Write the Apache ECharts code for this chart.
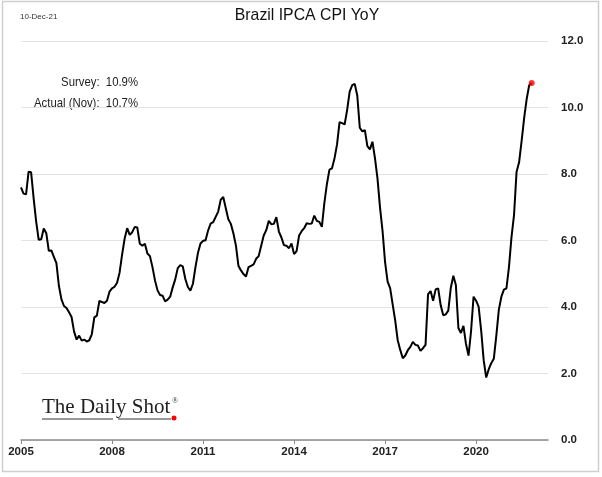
<!DOCTYPE html>
<html>
<head>
<meta charset="utf-8">
<script src="https://cdn.jsdelivr.net/npm/echarts@6/dist/echarts.min.js"></script>
<style>
html,body{margin:0;padding:0;background:#fff;}
#c{width:602px;height:477px;}
</style>
</head>
<body>
<div id="c"></div>
<script>
// Monthly IPCA YoY (%), Jan 2005 .. Nov 2021
const startYear = 2005;
const cpiYoY = [
  7.60,7.41,7.39,8.07,8.05,7.27,6.57,6.02,6.04,6.36,6.22,5.69,
  5.70,5.51,5.32,4.63,4.23,4.03,3.97,3.84,3.70,3.26,3.02,3.14,
  2.99,3.02,2.96,3.00,3.18,3.69,3.74,4.18,4.15,4.12,4.19,4.46,
  4.56,4.61,4.73,5.04,5.58,6.06,6.37,6.17,6.25,6.41,6.39,5.90,
  5.84,5.90,5.61,5.53,5.20,4.80,4.50,4.36,4.34,4.17,4.22,4.31,
  4.59,4.83,5.17,5.26,5.22,4.84,4.60,4.49,4.70,5.20,5.63,5.91,
  5.99,6.01,6.30,6.51,6.55,6.71,6.87,7.23,7.31,6.97,6.64,6.50,
  6.22,5.85,5.24,5.10,4.99,4.92,5.20,5.24,5.28,5.45,5.53,5.84,
  6.15,6.31,6.59,6.49,6.50,6.70,6.27,6.09,5.86,5.84,5.77,5.91,
  5.59,5.68,6.15,6.28,6.37,6.52,6.50,6.51,6.75,6.59,6.56,6.41,
  7.14,7.70,8.13,8.17,8.47,8.89,9.56,9.53,9.49,9.93,10.48,10.67,
  10.71,10.36,9.39,9.28,9.32,8.84,8.74,8.97,8.48,7.87,6.99,6.29,
  5.35,4.76,4.57,4.08,3.60,3.00,2.71,2.46,2.54,2.70,2.80,2.95,
  2.86,2.84,2.68,2.76,2.86,4.39,4.48,4.19,4.53,4.56,4.05,3.75,
  3.78,3.89,4.58,4.94,4.66,3.37,3.22,3.43,2.89,2.54,3.27,4.31,
  4.19,4.01,3.30,2.40,1.88,2.13,2.31,2.44,3.14,3.92,4.31,4.52,
  4.56,5.20,6.10,6.76,8.06,8.35,8.99,9.68,10.25,10.67,10.74
];
const xTickYears = [2005, 2008, 2011, 2014, 2017, 2020];
const yTicks = [0, 2, 4, 6, 8, 10, 12];
const annotations = ['Survey:  10.9%', 'Actual (Nov):  10.7%'];
const titleText = 'Brazil IPCA CPI YoY';
const dateText = '10-Dec-21';
const logoText = 'The Daily Shot';

// month positions as decimal years
const monthX = cpiYoY.map((_, i) => startYear + i / 12);
const lineData = cpiYoY.map((v, i) => [monthX[i], v]);
const lastPoint = [lineData[lineData.length - 1]];

const chart = echarts.init(document.getElementById('c'), null, {renderer: 'canvas'});
chart.setOption({
  animation: false,
  backgroundColor: '#fff',
  grid: {left: 21, right: 54, top: 41, bottom: 37, containLabel: false},
  xAxis: {
    type: 'value',
    min: 2005,
    max: 2022.37,
    splitLine: {show: false},
    axisLine: {show: true, onZero: false, lineStyle: {color: '#8c8c8c', width: 1.5}},
    axisTick: {show: true, customValues: xTickYears, length: 4, lineStyle: {color: '#8c8c8c'}},
    axisLabel: {
      customValues: xTickYears,
      formatter: v => String(Math.round(v)),
      color: '#222', fontWeight: 'bold', fontSize: 11.5,
      fontFamily: 'Liberation Sans, Arial, sans-serif', margin: 6
    }
  },
  yAxis: {
    type: 'value',
    position: 'right',
    min: yTicks[0], max: yTicks[yTicks.length - 1], interval: 2,
    axisLine: {show: false},
    axisTick: {show: false},
    splitLine: {show: true, lineStyle: {color: '#e3e3e3', width: 1.2}},
    axisLabel: {
      formatter: v => v.toFixed(1),
      color: '#222', fontWeight: 'bold', fontSize: 11.5,
      fontFamily: 'Liberation Sans, Arial, sans-serif', margin: 13
    }
  },
  series: [
    {
      type: 'line',
      data: lineData,
      showSymbol: false,
      lineStyle: {color: '#000', width: 2},
      z: 3
    },
    {
      type: 'scatter',
      data: lastPoint,
      symbolSize: 6,
      itemStyle: {color: '#ff0000'},
      z: 4
    }
  ],
  graphic: [
    {type: 'rect', shape: {x: 2.5, y: 1.5, width: 596, height: 470}, style: {fill: 'none', stroke: '#cfcfcf', lineWidth: 1.5}, silent: true},
    {type: 'text', x: 307, y: 15, scaleX: 0.93, style: {text: titleText, x: 0, y: 0, align: 'center', verticalAlign: 'middle', font: '17px "Liberation Sans", Arial, sans-serif', fill: '#111'}},
    {type: 'text', x: 20, y: 17, style: {text: dateText, verticalAlign: 'middle', font: '8px "Liberation Sans", Arial, sans-serif', fill: '#333'}},
    {type: 'text', x: 138, y: 82, scaleX: 0.84, style: {text: annotations[0], x: 0, y: 0, align: 'right', verticalAlign: 'middle', font: '13.5px "Liberation Sans", Arial, sans-serif', fill: '#222'}},
    {type: 'text', x: 138, y: 103, scaleX: 0.84, style: {text: annotations[1], x: 0, y: 0, align: 'right', verticalAlign: 'middle', font: '13.5px "Liberation Sans", Arial, sans-serif', fill: '#222'}},
    {type: 'text', x: 42, y: 407, style: {text: logoText, verticalAlign: 'middle', font: '21px "Liberation Serif", "DejaVu Serif", serif', fill: '#222'}},
    {type: 'text', x: 172, y: 401, style: {text: '®', verticalAlign: 'middle', font: '8px "Liberation Serif", serif', fill: '#333'}},
    {type: 'line', shape: {x1: 42, y1: 419, x2: 113, y2: 419}, style: {stroke: '#333', lineWidth: 1.2}},
    {type: 'line', shape: {x1: 118, y1: 419, x2: 171, y2: 419}, style: {stroke: '#333', lineWidth: 1.2}},
    {type: 'circle', shape: {cx: 174, cy: 418, r: 2.5}, style: {fill: '#ff0000'}}
  ]
});
</script>
</body>
</html>
